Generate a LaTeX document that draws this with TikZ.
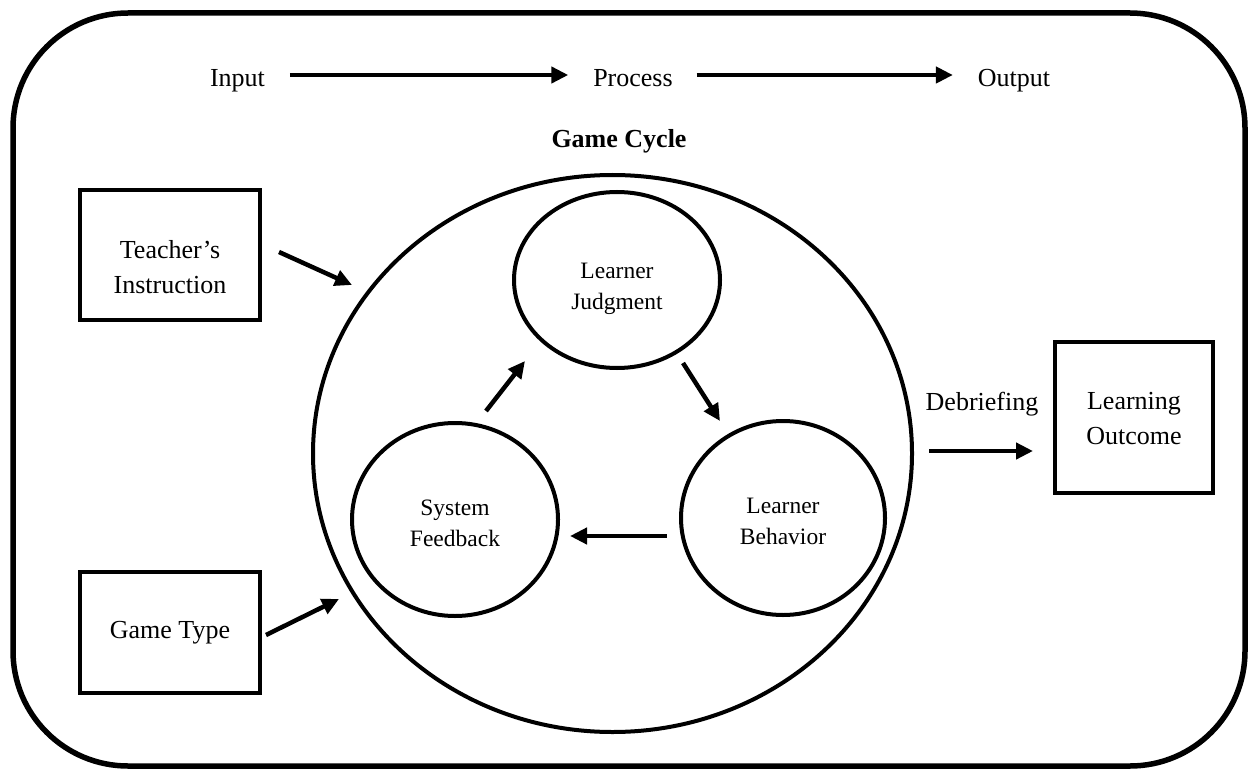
\documentclass[tikz,border=0pt]{standalone}
\usepackage{fontspec}
\setmainfont{Liberation Serif}
\usetikzlibrary{arrows.meta,shapes.geometric}
\begin{document}
\begin{tikzpicture}[x=1pt,y=-1pt,
  every node/.style={inner sep=0pt, outer sep=0pt},
  bigtxt/.style={font=\fontsize{26}{35}\selectfont, align=center},
  smalltxt/.style={font=\fontsize{23.5}{31}\selectfont, align=center},
  flow/.style={bigtxt, text height=18pt, text depth=6pt},
  title/.style={font=\fontsize{26}{35}\selectfont\bfseries},
  frame/.style={draw, line width=5.5pt, rounded corners=115pt},
  box/.style={draw, line width=4.5pt},
  stage/.style={draw, ellipse, line width=4pt},
  arr/.style={line width=4.5pt, -{Triangle[length=17pt,width=16pt]}},
]
\useasboundingbox (0,0) rectangle (1249,770);

% outer frame
\node[frame, minimum width=1232pt, minimum height=753pt] (frame) at (629,389.5) {};

% input - process - output row
\node[flow] (input)   at (237.5,81) {Input};
\node[flow] (process) at (633,81)   {Process};
\node[flow] (output)  at (1014,81)  {Output};
\draw[arr] ([shift={(25,-6)}]input.east)   -- ([shift={(-25,-6)}]process.west);
\draw[arr] ([shift={(24,-6)}]process.east) -- ([shift={(-25,-6)}]output.west);

% game cycle
\node[title, anchor=base] (gctitle) at (619,148) {Game Cycle};
\node[stage, minimum width=599pt, minimum height=557pt] (gc) at (612.5,453.5) {};
\node[stage, minimum width=206pt, minimum height=176pt,
      label={[smalltxt, yshift=-9pt]center:Learner\\Judgment}] (lj) at (617,280) {};
\node[stage, minimum width=206pt, minimum height=193pt,
      label={[smalltxt, yshift=-3.5pt]center:System\\Feedback}] (sf) at (455,519.5) {};
\node[stage, minimum width=204pt, minimum height=194pt,
      label={[smalltxt, yshift=-3pt]center:Learner\\Behavior}] (lb) at (783,518) {};

\draw[arr] ([shift={(31,-12)}]sf.north)   -- ([shift={(-92,-7)}]lj.south);
\draw[arr] ([shift={(66,-5)}]lj.south)    -- ([shift={(-63,0)}]lb.north);
\draw[arr] ([shift={(-14.5,18)}]lb.west)  -- ([shift={(12,16.5)}]sf.east);

% inputs
\node[box, minimum width=180pt, minimum height=130pt,
      label={[bigtxt, yshift=-12.5pt]center:Teacher’s\\Instruction}] (ti) at (170,255) {};
\node[box, minimum width=180pt, minimum height=121pt,
      label={[bigtxt]center:Game Type}] (gt) at (170,632.5) {};
\draw[arr] ([shift={(19,-3)}]ti.east) -- ([shift={(39,-168.5)}]gc.west);
\draw[arr] ([shift={(6,2.5)}]gt.east) -- ([shift={(26,145.5)}]gc.west);

% output
\node[box, minimum width=158pt, minimum height=151pt,
      label={[bigtxt, yshift=-1pt]center:Learning\\Outcome}] (lo) at (1134,417.5) {};
\node[bigtxt] (debrief) at (982,404) {Debriefing};
\draw[arr] ([shift={(17,-2.5)}]gc.east) -- ([shift={(-22,33.5)}]lo.west);
\end{tikzpicture}
\end{document}
